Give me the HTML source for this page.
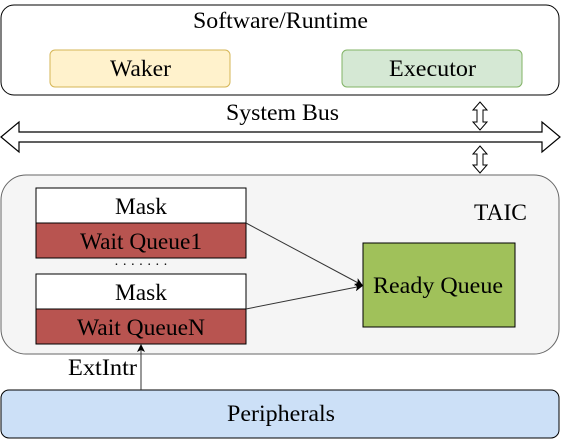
<html><body style="margin:0;width:561px;height:440px;background:#fff;position:relative;">
<svg width="561" height="440" style="position:absolute;left:0;top:0;font-family:'Liberation Serif',serif;font-size:23px">
<defs><marker id="a" markerWidth="8" markerHeight="8" refX="7" refY="4" orient="auto" markerUnits="userSpaceOnUse"><path d="M0,0 L8,4 L0,8 L2,4 z" fill="#000"/></marker></defs>
<rect x="1" y="5" width="558" height="90" rx="13" fill="#fff" stroke="#000"/>
<text x="193" y="28" textLength="175" lengthAdjust="spacingAndGlyphs">Software/Runtime</text>
<rect x="50" y="50" width="180" height="37" rx="5" fill="#fff2cc" stroke="#d6b656"/>
<text x="110" y="76" textLength="61" lengthAdjust="spacingAndGlyphs">Waker</text>
<rect x="342" y="50" width="180" height="37" rx="5" fill="#d5e8d4" stroke="#82b366"/>
<text x="389" y="76" textLength="87" lengthAdjust="spacingAndGlyphs">Executor</text>
<text x="226" y="120" textLength="113" lengthAdjust="spacingAndGlyphs">System Bus</text>
<path d="M1,137 L19,122 L19,132 L542,132 L542,122 L560,137 L542,152 L542,142 L19,142 L19,152 Z" fill="#fff" stroke="#000" stroke-width="1.2"/>
<path d="M480,102 L487,110 L483,110 L483,122 L487,122 L480,130 L473,122 L477,122 L477,110 L473,110 Z" fill="#fff" stroke="#000"/>
<path d="M480,146 L487,154 L483,154 L483,165 L487,165 L480,173 L473,165 L477,165 L477,154 L473,154 Z" fill="#fff" stroke="#000"/>
<rect x="1" y="175" width="558" height="179" rx="25" fill="#f5f5f5" stroke="#666"/>
<text x="474" y="220" textLength="53" lengthAdjust="spacingAndGlyphs">TAIC</text>
<rect x="36" y="188" width="210" height="35" fill="#fff" stroke="#000"/>
<text x="115" y="214" textLength="52" lengthAdjust="spacingAndGlyphs">Mask</text>
<rect x="36" y="223" width="210" height="35" fill="#b85450" stroke="#000"/>
<text x="80" y="249" textLength="122" lengthAdjust="spacingAndGlyphs">Wait Queue1</text>
<text x="141" y="269" text-anchor="middle" style="font-size:14px">· · · · · · ·</text>
<rect x="36" y="274" width="210" height="35" fill="#fff" stroke="#000"/>
<text x="115" y="300" textLength="52" lengthAdjust="spacingAndGlyphs">Mask</text>
<rect x="36" y="309" width="210" height="35" fill="#b85450" stroke="#000"/>
<text x="77" y="335" textLength="128" lengthAdjust="spacingAndGlyphs">Wait QueueN</text>
<rect x="363" y="243" width="152" height="84" fill="#a0c15a" stroke="#000"/>
<text x="373" y="293" textLength="130" lengthAdjust="spacingAndGlyphs">Ready Queue</text>
<line x1="246" y1="223" x2="362" y2="285" stroke="#333" marker-end="url(#a)"/>
<line x1="246" y1="309" x2="362" y2="286" stroke="#333" marker-end="url(#a)"/>
<rect x="1" y="390" width="558" height="48" rx="8" fill="#cce0f7" stroke="#000"/>
<text x="227" y="421" textLength="108" lengthAdjust="spacingAndGlyphs">Peripherals</text>
<line x1="141" y1="390" x2="141" y2="345" stroke="#333" marker-end="url(#a)"/>
<text x="68" y="375" textLength="69" lengthAdjust="spacingAndGlyphs">ExtIntr</text>
</svg>
</body></html>
